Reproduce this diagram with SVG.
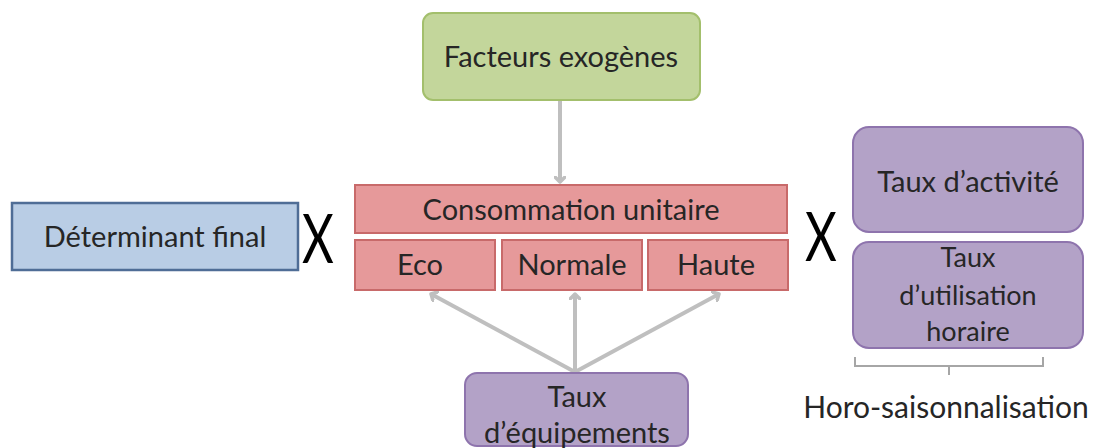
<svg xmlns="http://www.w3.org/2000/svg" width="1096" height="448" viewBox="0 0 1096 448">
<style>
text{font-family:Lato,"Open Sans","Liberation Sans",sans-serif;text-anchor:middle;fill:#262626}
.green{fill:#c3d69b;stroke:#a3bf6c;stroke-width:2}
.blue{fill:#b9cde5;stroke:#4f6d96;stroke-width:2.5}
.pink{fill:#e6999a;stroke:#c86a6a;stroke-width:2}
.purple{fill:#b3a2c7;stroke:#8e74ad;stroke-width:2}
.conn{stroke:#bfbfbf;stroke-width:4;fill:none}
.t{font-size:29px}
.s{font-size:27px}
.h{font-size:30px}
.x{font-size:68px;fill:#000}
</style>
<defs>
<marker id="ah" markerWidth="12" markerHeight="12" viewBox="-6 -6 12 12" refX="0" refY="0" orient="auto" markerUnits="userSpaceOnUse">
<polyline points="-5,-5 0,0 -5,5" fill="none" stroke="#bfbfbf" stroke-width="3.5" stroke-linecap="round" stroke-linejoin="round"/>
</marker>
</defs>
<g id="connectors">
<line class="conn" x1="560" y1="100" x2="560" y2="182" marker-end="url(#ah)"/>
<line class="conn" x1="575" y1="372" x2="431" y2="294" marker-end="url(#ah)"/>
<line class="conn" x1="575" y1="372" x2="575" y2="294" marker-end="url(#ah)"/>
<line class="conn" x1="575" y1="372" x2="719" y2="294" marker-end="url(#ah)"/>
</g>
<g id="facteurs">
<rect class="green" x="423" y="13" width="277" height="87" rx="10"/>
<text class="t" x="561" y="67">Facteurs exogènes</text>
</g>
<g id="determinant">
<rect class="blue" x="12" y="203" width="286" height="67"/>
<text class="t" x="155" y="247">Déterminant final</text>
</g>
<g id="x-left">
<text class="x" x="0" y="0" transform="translate(318,263) scale(0.72,1)">X</text>
</g>
<g id="consommation">
<rect class="pink" x="355" y="185" width="432" height="48"/>
<text class="t" x="571" y="220">Consommation unitaire</text>
</g>
<g id="eco">
<rect class="pink" x="355" y="240" width="140" height="50"/>
<text class="t" x="420" y="275">Eco</text>
</g>
<g id="normale">
<rect class="pink" x="502" y="240" width="140" height="50"/>
<text class="t" x="572" y="275">Normale</text>
</g>
<g id="haute">
<rect class="pink" x="648" y="240" width="140" height="50"/>
<text class="t" x="716" y="275">Haute</text>
</g>
<g id="x-right">
<text class="x" x="0" y="0" transform="translate(821,261) scale(0.72,1)">X</text>
</g>
<g id="activite">
<rect class="purple" x="853" y="127" width="230" height="105" rx="16"/>
<text class="t" x="968" y="192">Taux d’activité</text>
</g>
<g id="utilisation">
<rect class="purple" x="853" y="242" width="230" height="106" rx="16"/>
<text class="s" x="968" y="267">Taux</text>
<text class="s" x="968" y="305">d’utilisation</text>
<text class="s" x="968" y="341">horaire</text>
</g>
<g id="bracket">
<path d="M855,357 L855,366 L1043,366 L1043,357 M949,366 L949,375" fill="none" stroke="#a6a6a6" stroke-width="2"/>
</g>
<g id="horo">
<text class="h" x="946" y="418">Horo-saisonnalisation</text>
</g>
<g id="equipements">
<rect class="purple" x="465" y="373" width="223" height="73" rx="12"/>
<text class="t" x="577" y="407">Taux</text>
<text class="t" x="577" y="443">d’équipements</text>
</g>
</svg>
